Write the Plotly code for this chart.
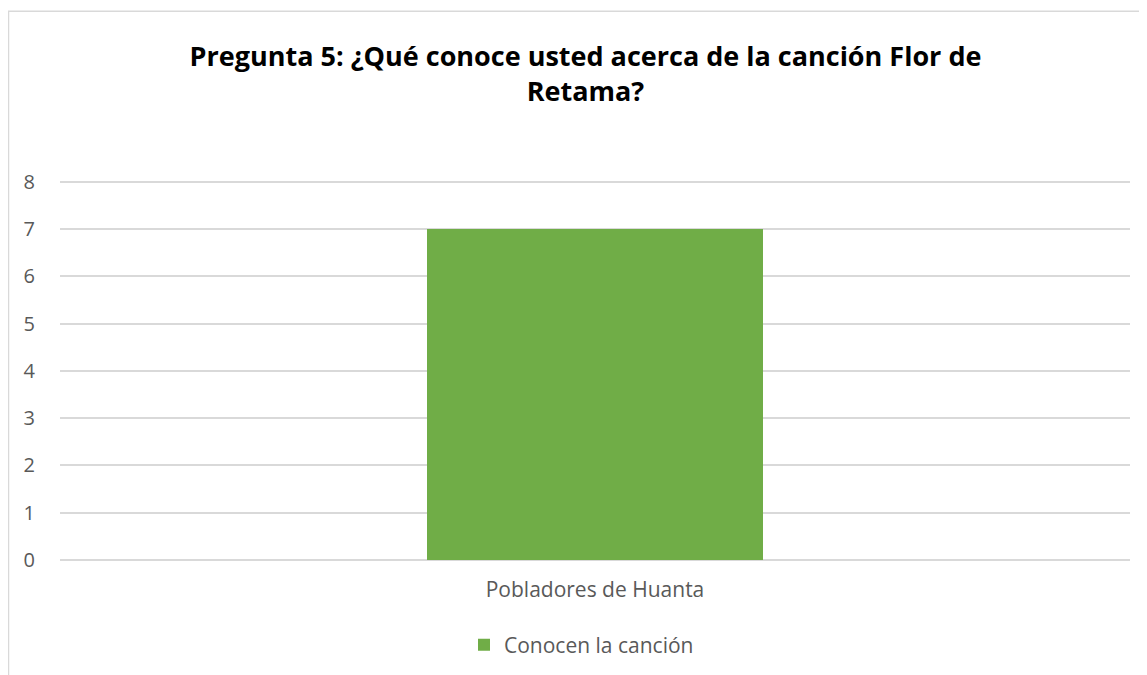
import plotly.graph_objects as go

categories = ["Pobladores de Huanta"]
values = [7]
series_name = "Conocen la canción"
title_text = "Pregunta 5: ¿Qué conoce usted acerca de la canción Flor de<br>Retama?"
y_ticks = [0, 1, 2, 3, 4, 5, 6, 7, 8]

FONT = "Open Sans"
W, H = 1147, 675
OFF = 8  # page body margin
Y_TOP = 8.08
UNIT = (560 - 182) / 8.0
# target plot area in screen pixels
SX0, SX1, SY1 = 60, 1130, 560
SY0 = SY1 - Y_TOP * UNIT
L = SX0 - OFF
R = W - (SX1 - OFF)
T = SY0 - OFF
B = H - (SY1 - OFF)
pw, ph = W - L - R, H - T - B

def px(xs):
    return (xs - OFF - L) / pw

def py(ys):
    return (H - B - (ys - OFF)) / ph

fig = go.Figure()
fig.add_trace(go.Bar(
    x=categories, y=values, name=series_name,
    marker=dict(color="#70ad47", line=dict(width=0)),
    width=0.314, showlegend=True,
))

fig.update_layout(
    width=W, height=H,
    margin=dict(l=L, r=R, t=T, b=B, autoexpand=False),
    paper_bgcolor="white", plot_bgcolor="white",
    font=dict(family=FONT, color="#595959", size=21),
    title=dict(
        text=title_text, x=px(585.5), xref="paper", xanchor="center",
        y=1 - 58 / H, yref="container", yanchor="middle",
        font=dict(family=FONT, size=27, color="black", weight="bold"),
    ),
    xaxis=dict(
        showgrid=False, showline=False, zeroline=False,
        ticks="outside", ticklen=11, tickcolor="rgba(0,0,0,0)",
        tickfont=dict(size=21, color="#595959"),
    ),
    yaxis=dict(
        range=[0, Y_TOP], tickvals=y_ticks,
        showgrid=True, gridcolor="#d9d9d9", gridwidth=1.5,
        zeroline=True, zerolinecolor="#d9d9d9", zerolinewidth=1.5,
        ticks="outside", ticklen=20, tickcolor="rgba(0,0,0,0)",
        tickfont=dict(size=20, color="#595959"),
    ),
    legend=dict(
        orientation="h", x=px(464), xanchor="left",
        y=py(645), yanchor="middle",
        font=dict(size=21, color="#595959"),
    ),
    bargap=0,
    shapes=[dict(
        type="rect", xref="paper", yref="paper",
        x0=px(8.5), x1=px(1170), y0=py(720), y1=py(11.5),
        line=dict(color="#d9d9d9", width=1.5), fillcolor="rgba(0,0,0,0)",
        layer="below",
    )],
)

fig.write_html("out.html")
